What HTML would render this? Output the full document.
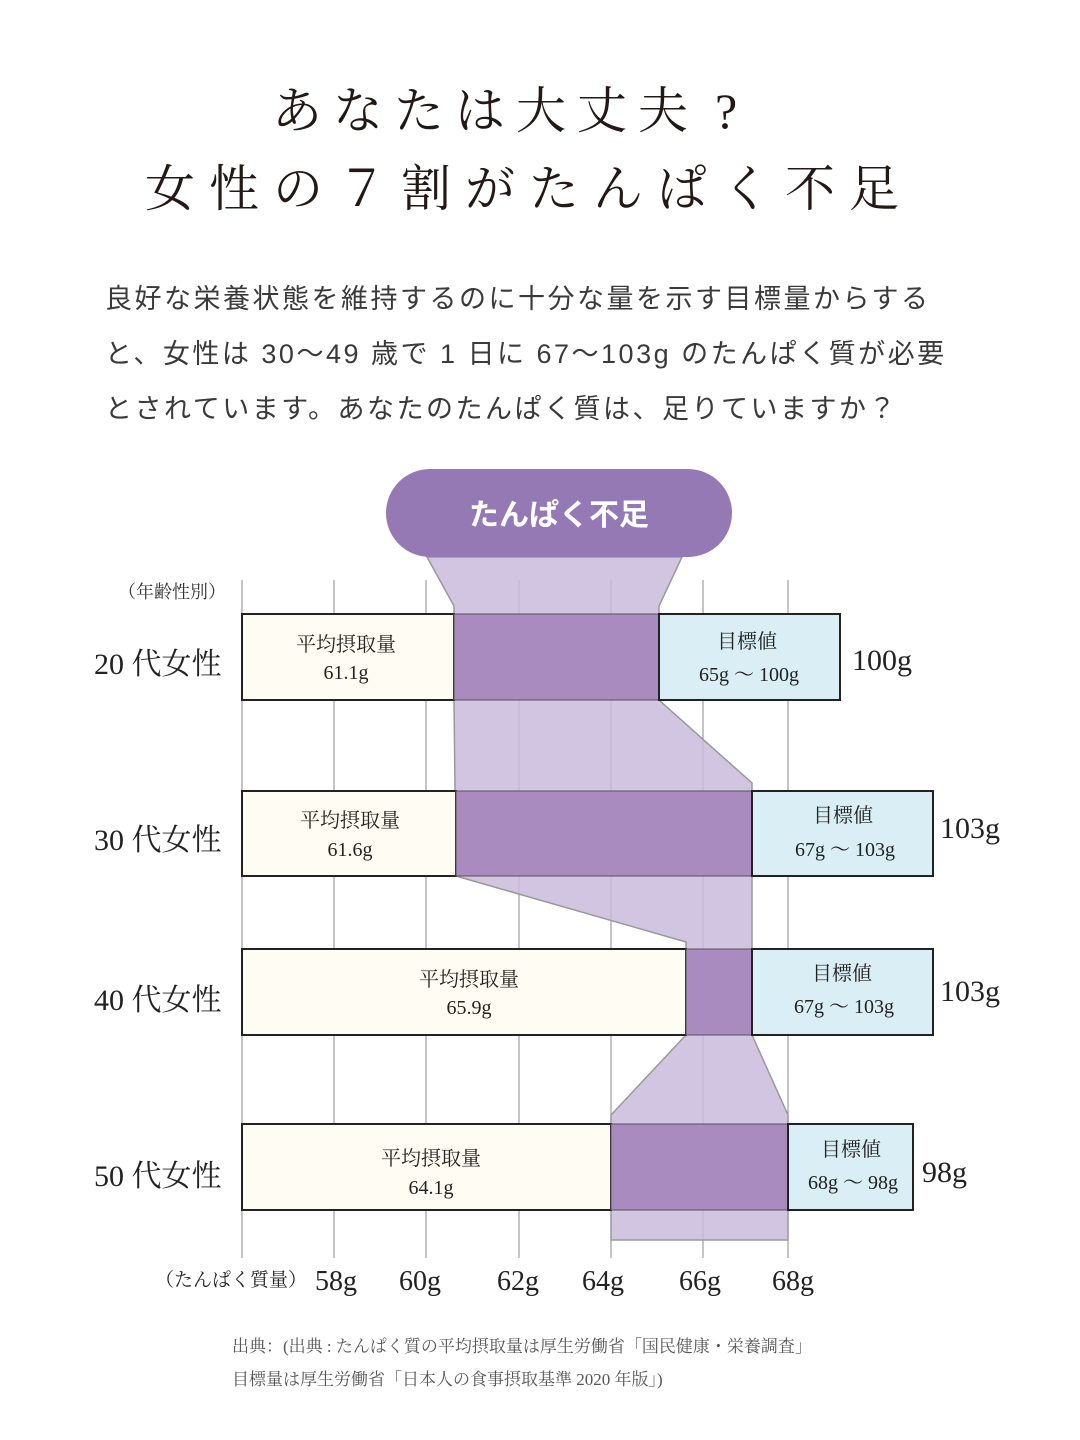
<!DOCTYPE html>
<html><head><meta charset="utf-8"><style>
*{margin:0;padding:0}
body{width:1080px;height:1440px;background:#fff;position:relative;overflow:hidden;font-family:"Liberation Serif","Noto Serif CJK SC",serif;color:#231815}
.a{position:absolute;white-space:nowrap}
.t{font-family:"Liberation Serif","Noto Serif CJK SC",serif;font-size:50px;line-height:1}
.p{font-family:"Liberation Sans","Noto Sans CJK JP",sans-serif;font-size:27px;color:#3a3a3a;left:105px;line-height:1;letter-spacing:2.5px}
</style></head><body>
<div class="a t" style="left:272px;top:86px;letter-spacing:11px">あなたは大丈夫<span style="letter-spacing:0;margin-left:16px">?</span></div>
<div class="a t" style="left:145px;top:164px;letter-spacing:14px">女性の７割がたんぱく不足</div>
<div class="a p" style="top:286px">良好な栄養状態を維持するのに十分な量を示す目標量からする</div>
<div class="a p" style="top:341px">と、女性は 30〜49 歳で 1 日に 67〜103g のたんぱく質が必要</div>
<div class="a p" style="top:396px">とされています。あなたのたんぱく質は、足りていますか？</div>
<svg class="a" style="left:0;top:0" width="1080" height="1440" font-family="Liberation Serif, Noto Serif CJK SC, serif">
<g stroke="#888" stroke-width="1">
<line x1="242" y1="580" x2="242" y2="1258"/><line x1="334" y1="580" x2="334" y2="1258"/><line x1="426" y1="580" x2="426" y2="1258"/><line x1="519" y1="580" x2="519" y2="1258"/><line x1="611" y1="580" x2="611" y2="1258"/><line x1="703" y1="580" x2="703" y2="1258"/><line x1="788" y1="580" x2="788" y2="1258"/>
</g>
<polygon points="427,557 682,557 659,606 659,700 752,783 752,1035 788,1115 788,1240 611,1240 611,1115 686,1035 686,942 456,876 454,700 454,606" fill="#c9bbdc" fill-opacity="0.85" stroke="#999" stroke-width="1.5"/>
<rect x="386" y="469" width="346" height="88" rx="44" fill="#9579b5"/>
<text x="559" y="525" fill="#fff" font-size="30" text-anchor="middle" font-weight="bold" font-family="Liberation Sans, Noto Sans CJK JP, sans-serif">たんぱく不足</text>
<text x="118" y="598" font-size="18" fill="#333">（年齢性別）</text>
<g stroke="#222" stroke-width="2">
<rect x="242" y="614" width="212" height="86" fill="#fffdf3"/><rect x="454" y="614" width="205" height="86" fill="#a98bbf" stroke="#555" stroke-width="1"/><rect x="659" y="614" width="181" height="86" fill="#d9eef5"/>
<rect x="242" y="791" width="214" height="85" fill="#fffdf3"/><rect x="456" y="791" width="296" height="85" fill="#a98bbf" stroke="#555" stroke-width="1"/><rect x="752" y="791" width="181" height="85" fill="#d9eef5"/>
<rect x="242" y="949" width="444" height="86" fill="#fffdf3"/><rect x="686" y="949" width="66" height="86" fill="#a98bbf" stroke="#555" stroke-width="1"/><rect x="752" y="949" width="181" height="86" fill="#d9eef5"/>
<rect x="242" y="1124" width="369" height="86" fill="#fffdf3"/><rect x="611" y="1124" width="177" height="86" fill="#a98bbf" stroke="#555" stroke-width="1"/><rect x="788" y="1124" width="125" height="86" fill="#d9eef5"/>
</g>
<g font-size="20" fill="#222" text-anchor="middle">
<text x="346" y="651">平均摂取量</text><text x="346" y="679">61.1g</text>
<text x="747" y="648">目標値</text><text x="749" y="681">65g 〜 100g</text>
<text x="350" y="827">平均摂取量</text><text x="350" y="856">61.6g</text>
<text x="843" y="822">目標値</text><text x="845" y="856">67g 〜 103g</text>
<text x="469" y="986">平均摂取量</text><text x="469" y="1014">65.9g</text>
<text x="842" y="980">目標値</text><text x="844" y="1013">67g 〜 103g</text>
<text x="431" y="1165">平均摂取量</text><text x="431" y="1194">64.1g</text>
<text x="851" y="1156">目標値</text><text x="853" y="1189">68g 〜 98g</text>
</g>
<g font-size="30" fill="#222">
<text x="94" y="674">20 代女性</text><text x="94" y="850">30 代女性</text><text x="94" y="1010">40 代女性</text><text x="94" y="1186">50 代女性</text>
<text x="852" y="670">100g</text><text x="940" y="838">103g</text><text x="940" y="1001">103g</text><text x="922" y="1182">98g</text>
</g>
<text x="155" y="1286" font-size="19" fill="#222">（たんぱく質量）</text>
<g font-size="28" fill="#222" text-anchor="middle">
<text x="336" y="1290">58g</text><text x="420" y="1290">60g</text><text x="518" y="1290">62g</text><text x="603" y="1290">64g</text><text x="700" y="1290">66g</text><text x="793" y="1290">68g</text>
</g>
<text x="232" y="1352" font-size="17" fill="#555">出典：(出典 : たんぱく質の平均摂取量は厚生労働省「国民健康・栄養調査」</text>
<text x="232" y="1385" font-size="17" fill="#555">目標量は厚生労働省「日本人の食事摂取基準 2020 年版」)</text>
</svg>
</body></html>
